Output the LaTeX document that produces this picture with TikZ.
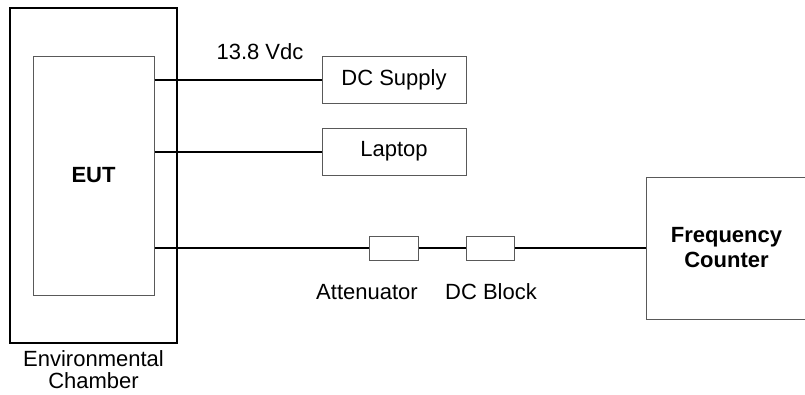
\documentclass[tikz,border=0pt]{standalone}
\usepackage{fontspec}
\setmainfont{Liberation Sans}
\usetikzlibrary{positioning,calc}

\begin{document}
\begin{tikzpicture}[
  x=1pt, y=-1pt,
  every node/.style={font=\fontsize{22}{25}\selectfont, inner sep=0pt},
  unit/.style={draw=black!65, line width=1pt, minimum width=#1},
  wire/.style={draw, line width=2pt},
]
\clip (0,0) rectangle (805,394);
\node[draw, line width=2.2pt, minimum width=167pt, minimum height=335pt]
  (chamber) at (93.5,175.5) {};
\node[unit=121pt, minimum height=239pt, font=\fontsize{22}{25}\selectfont\bfseries]
  (eut) at (93.5,175.5) {EUT};
\node[anchor=base] (chlabel) at (93.5,366) {Environmental};
\node[anchor=base] (chlabelb) at (93.5,388) {Chamber};
\node[unit=144pt, minimum height=47pt] (dc) at (394,79.5) {DC Supply};
\node[unit=144pt, minimum height=47pt] (lap) at (394,151.5) {Laptop};
\node[unit=49pt, minimum height=24pt] (att) at (393.5,248) {};
\node[unit=48pt, minimum height=24pt] (blk) at (490,248) {};
\node[unit=160pt, minimum height=142pt, align=center,
      font=\fontsize{22}{25}\selectfont\bfseries] (fc) at (726.5,248)
  {Frequency\\Counter};
\draw[wire] (eut.east |- dc.west) -- (dc.west);
\draw[wire] (eut.east |- lap.west) -- (lap.west);
\draw[wire] (eut.east |- att.west) -- (att.west);
\draw[wire] (att.east) -- (blk.west);
\draw[wire] (blk.east) -- (fc.west);
\node (volt) at (260,52) {13.8 Vdc};
\node (attlabel) at (367,292) {Attenuator};
\node (blklabel) at (491,292) {DC Block};
\end{tikzpicture}
\end{document}
